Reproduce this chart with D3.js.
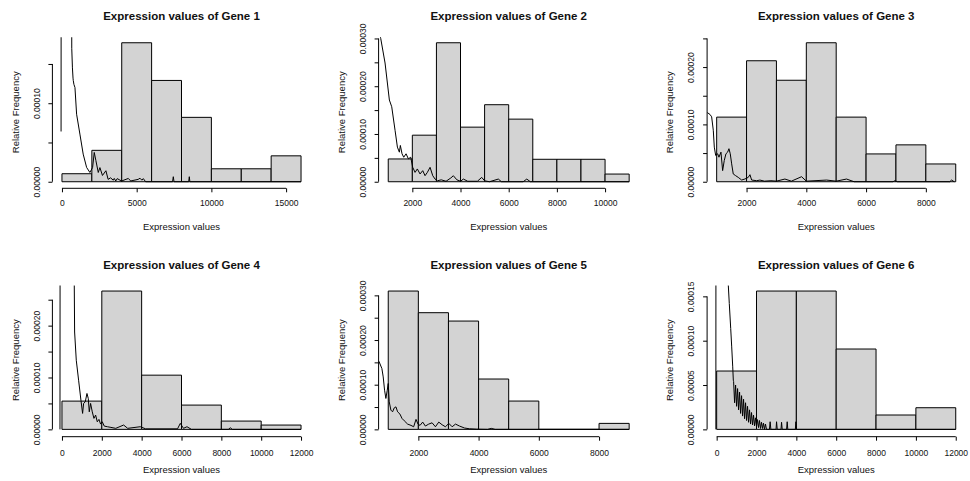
<!DOCTYPE html>
<html>
<head>
<meta charset="utf-8">
<title>Expression values</title>
<script src="https://d3js.org/d3.v7.min.js"></script>
<style>
  body { margin: 0; background: #fff; }
  text { font-family: "Liberation Sans", Arial, sans-serif; fill: #111; }
  .title { font-weight: bold; font-size: 11.5px; }
  .lab { font-size: 9.5px; }
  .axis text { font-size: 8.5px; }
  .axis line, .axis path { stroke: #000; }
</style>
</head>
<body>
<script>
// Histogram breaks, bar densities and the density line of each gene
var titles = ["Expression values of Gene 1", "Expression values of Gene 2", "Expression values of Gene 3",
              "Expression values of Gene 4", "Expression values of Gene 5", "Expression values of Gene 6"];

var breaks1 = [0, 2000, 4000, 6000, 8000, 10000, 12000, 14000, 16000];
var dens1 = [0.0000102, 0.0000400, 0.0001770, 0.0001290, 0.0000820, 0.0000165, 0.0000165, 0.0000330];
var xTicks1 = [0, 5000, 10000, 15000];
var yTicks1 = [0, 0.00005, 0.0001, 0.00015];
var line1 = [[-60,0.000064],[-45,0.0006],[630,0.0006],[655,0.00017],[700,0.000145],[740,0.000132],[757,0.000129],
  [800,0.000124],[870,0.00012],[980,0.000086],[1200,0.0000607],[1420,0.0000352],[1650,0.0000182],[1870,0.0000118],
  [2050,0.0000182],[2160,0.0000373],[2270,0.000027],[2430,0.0000118],[2540,0.000018],[2710,0.000008],[2940,0.000014],
  [3090,0.000003],[3250,0.000005],[3435,0.000002],[3500,0.0000042],[3600,0.000001],[3700,0.000004],[3882,0.000002],
  [4000,0.000001],[4440,0.0000042],[4600,0.000001],[5100,0.000003],[5220,0.0000045],[5350,0.000002],[5443,0.000004],
  [5600,0],[7400,0],[7452,0.0000064],[7500,0],[8480,0],[8522,0.0000064],[8560,0],[16000,0]];

var breaks2 = [1000, 2000, 3000, 4000, 5000, 6000, 7000, 8000, 9000, 10000, 11000];
var dens2 = [0.0000477, 0.0000975, 0.000291, 0.0001143, 0.0001613, 0.0001311, 0.000047, 0.000047, 0.000047, 0.0000161];
var xTicks2 = [2000, 4000, 6000, 8000, 10000];
var yTicks2 = [0, 0.00005, 0.0001, 0.00015, 0.0002, 0.00025, 0.0003];
var line2 = [[560,0.00033],[688,0.0003],[868,0.0002486],[1047,0.0001711],[1145,0.000157],[1283,0.0001077],[1380,0.0000725],
  [1462,0.0000619],[1503,0.000076],[1573,0.0000585],[1643,0.0000513],[1740,0.0000585],[1836,0.000048],[1933,0.0000513],
  [2016,0.0000302],[2113,0.0000196],[2208,0.0000268],[2320,0.0000163],[2432,0.0000232],[2528,0.0000127],[2624,0.0000196],
  [2736,0.0000302],[2847,0.0000127],[2943,0.0000057],[3040,0.000002],[3200,0.000004],[3400,0.000001],[3600,0.000008],
  [3703,0.0000126],[3850,0.000004],[4000,0.000001],[4118,0.0000056],[4300,0.000001],[4700,0.000001],[4880,0.0000091],
  [5000,0.000002],[5200,0],[5570,0.0000056],[5700,0],[6600,0],[6750,0.0000056],[6900,0],[11000,0]];

var breaks3 = [1000, 2000, 3000, 4000, 5000, 6000, 7000, 8000, 9000];
var dens3 = [0.0001127, 0.000211, 0.000177, 0.0002424, 0.0001127, 0.0000485, 0.0000643, 0.000031];
var xTicks3 = [2000, 4000, 6000, 8000];
var yTicks3 = [0, 0.00005, 0.0001, 0.00015, 0.0002, 0.00025];
var line3 = [[680,0.000121],[699,0.0001202],[776,0.0001174],[832,0.0001132],[887,0.0000898],[921,0.0000604],[967,0.0000458],
  [1033,0.0000488],[1077,0.0000428],[1144,0.0000516],[1200,0.0000194],[1254,0.000037],[1311,0.0000488],[1367,0.0000516],
  [1411,0.0000576],[1455,0.0000488],[1502,0.0000312],[1555,0.0000136],[1635,0.0000106],[1722,0.0000076],[1836,0.000003],
  [1946,0.0000048],[2057,0.0000076],[2114,0.0000123],[2170,0.000003],[2338,0.0000018],[2448,0.0000029],[2600,0.000001],
  [2816,0.0000018],[3000,0.000001],[3284,0.0000047],[3500,0.000001],[3841,0.0000088],[4000,0.000001],[4677,0.0000029],
  [5000,0.000001],[5346,0.0000047],[5600,0],[6900,0],[6963,0.0000018],[7050,0],[8800,0],[8859,0.0000029],[8950,0]];

var breaks4 = [0, 2000, 4000, 6000, 8000, 10000, 12000];
var dens4 = [0.0000545, 0.0002667, 0.0001045, 0.0000468, 0.000016, 0.0000083];
var xTicks4 = [0, 2000, 4000, 6000, 8000, 10000, 12000];
var yTicks4 = [0, 0.00005, 0.0001, 0.00015, 0.0002, 0.00025];
var line4 = [[-100,0],[-90,0.0006],[600,0.0006],[618,0.0002775],[635,0.0001877],[718,0.0001333],[835,0.0000948],
  [952,0.0000563],[1036,0.0000308],[1086,0.00005],[1170,0.0000531],[1255,0.0000692],[1321,0.0000596],[1371,0.0000338],
  [1437,0.00005],[1521,0.0000338],[1605,0.0000212],[1689,0.0000275],[1772,0.0000146],[1856,0.0000192],[1939,0.0000102],
  [2023,0.0000146],[2124,0.0000063],[2291,0.000005],[2458,0.0000038],[2700,0.000002],[3094,0.0000083],[3300,0.000002],
  [3931,0.0000051],[4200,0.000001],[5800,0.000001],[5940,0.0000115],[6100,0.000002],[6275,0.0000051],[6500,0],
  [8350,0],[8450,0.000003],[8550,0],[12000,0]];

var breaks5 = [1000, 2000, 3000, 4000, 5000, 6000, 7000, 8000, 9000];
var dens5 = [0.0003097, 0.0002612, 0.0002425, 0.0001127, 0.0000634, 0, 0, 0.0000134];
var xTicks5 = [2000, 4000, 6000, 8000];
var yTicks5 = [0, 0.00005, 0.0001, 0.00015, 0.0002, 0.00025, 0.0003];
var line5 = [[680,0.000153],[700,0.0001509],[789,0.0001362],[833,0.0001174],[878,0.0000877],[922,0.0000692],[967,0.0000877],
  [1000,0.0001027],[1033,0.0000616],[1089,0.0000431],[1144,0.0000393],[1200,0.0000482],[1256,0.0000504],[1311,0.0000393],
  [1389,0.0000342],[1456,0.0000246],[1533,0.0000192],[1644,0.0000118],[1756,0.0000089],[1844,0.0000058],[1922,0.0000223],
  [1989,0.0000118],[2056,0.0000089],[2144,0.0000163],[2233,0.0000074],[2344,0.0000118],[2456,0.0000147],[2567,0.0000058],
  [2678,0.0000163],[2789,0.0000103],[2900,0.0000058],[3011,0.0000134],[3122,0.0000058],[3233,0.0000118],[3367,0.0000074],
  [3533,0.000003],[3700,0.0000013],[3922,0.0000005],[4300,0],[4422,0.0000022],[4550,0],[9000,0]];

var breaks6 = [0, 2000, 4000, 6000, 8000, 10000, 12000];
var dens6 = [0.0000658, 0.000156, 0.000156, 0.0000906, 0.0000162, 0.0000244];
var xTicks6 = [0, 2000, 4000, 6000, 8000, 10000, 12000];
var yTicks6 = [0, 0.00005, 0.0001, 0.00015];
var line6 = [[-40,0],[-30,0.0006],[560,0.0006],[584,0.0001625],[634,0.0001419],[705,0.0001137],[755,0.000093],
  [806,0.0000705],[836,0.0000555],[850,0.000054],[900,0.000030],[950,0.000050],[1000,0.000026],[1050,0.000046],
  [1100,0.000022],[1150,0.000042],[1200,0.000018],[1250,0.000038],[1300,0.000015],[1350,0.000034],[1400,0.000012],
  [1450,0.000030],[1500,0.000010],[1550,0.000026],[1600,0.000008],[1650,0.000022],[1700,0.000006],[1750,0.000019],
  [1800,0.000005],[1850,0.000016],[1900,0.000004],[1950,0.000013],[2000,0.000003],[2050,0.000011],[2100,0.000002],
  [2150,0.000010],[2200,0.000001],[2250,0.000008],[2300,0.000001],[2350,0.000007],[2400,0],[2450,0.000006],[2500,0],
  [2650,0],[2685,0.0000086],[2720,0],[2980,0],[3006,0.0000086],[3040,0],[3230,0],[3257,0.000008],[3290,0],
  [3510,0],[3540,0.0000086],[3570,0],[3950,0],[3977,0.0000086],[4010,0],[12000,0]];

var panels = [
  {breaks: breaks1, dens: dens1, line: line1, xTicks: xTicks1, yTicks: yTicks1},
  {breaks: breaks2, dens: dens2, line: line2, xTicks: xTicks2, yTicks: yTicks2},
  {breaks: breaks3, dens: dens3, line: line3, xTicks: xTicks3, yTicks: yTicks3},
  {breaks: breaks4, dens: dens4, line: line4, xTicks: xTicks4, yTicks: yTicks4},
  {breaks: breaks5, dens: dens5, line: line5, xTicks: xTicks5, yTicks: yTicks5},
  {breaks: breaks6, dens: dens6, line: line6, xTicks: xTicks6, yTicks: yTicks6}
];

// plot regions (2 x 3 layout)
var cols = [{left: 52.4, right: 310.6}, {left: 378.6, right: 638.8}, {left: 707.1, right: 965.3}];
var rows = [{top: 37.2, bottom: 187.3, axisOff: 1, tickPad: 8, xlabY: 230.3, titleY: 20},
            {top: 285.5, bottom: 434.9, axisOff: 1.8, tickPad: 9.6, xlabY: 472.8, titleY: 269}];

var svg = d3.select("body").append("svg")
    .attr("width", 970)
    .attr("height", 481);

var fmt = d3.format(".5f");

panels.forEach(function(p, i) {
  var c = cols[i % 3], r = rows[Math.floor(i / 3)];
  var b0 = p.breaks[0], b1 = p.breaks[p.breaks.length - 1];
  var pad = (b1 - b0) * 0.04;
  var x = d3.scaleLinear().domain([b0 - pad, b1 + pad]).range([c.left, c.right]);
  var ymax = d3.max(p.dens);
  var y = d3.scaleLinear().domain([-0.04 * ymax, 1.04 * ymax]).range([r.bottom, r.top]);

  var g = svg.append("g");

  g.append("clipPath").attr("id", "clip" + i)
    .append("rect")
      .attr("x", c.left).attr("y", r.top)
      .attr("width", c.right - c.left).attr("height", r.bottom - r.top);

  // bars (paths so that empty bins still show as a line)
  g.selectAll(".bar")
      .data(p.dens)
    .enter().append("path")
      .attr("class", "bar")
      .attr("d", function(d, j) {
        var x0 = x(p.breaks[j]), x1 = x(p.breaks[j + 1]);
        return "M" + x0 + "," + y(0) + "H" + x1 + "V" + y(d) + "H" + x0 + "Z";
      })
      .style("fill", "#d3d3d3")
      .style("stroke", "#000")
      .style("stroke-width", 1);

  // density line
  g.append("path")
      .datum(p.line)
      .attr("clip-path", "url(#clip" + i + ")")
      .attr("d", d3.line().x(function(d) { return x(d[0]); }).y(function(d) { return y(d[1]); }))
      .style("fill", "none")
      .style("stroke", "#000")
      .style("stroke-width", 1);

  // x axis
  var xa = g.append("g")
      .attr("class", "axis")
      .attr("transform", "translate(0," + (r.bottom + r.axisOff) + ")")
      .call(d3.axisBottom(x).tickValues(p.xTicks).tickSize(4).tickPadding(r.tickPad).tickFormat(d3.format("d")));
  xa.select(".domain").attr("d", "M" + x(p.xTicks[0]) + ",0H" + x(p.xTicks[p.xTicks.length - 1]));

  // y axis, labels skipped when they would overlap
  var step = y(0) - y(p.yTicks[1]);
  var ya = g.append("g")
      .attr("class", "axis")
      .attr("transform", "translate(" + c.left + ",0)")
      .call(d3.axisLeft(y).tickValues(p.yTicks).tickSize(4)
        .tickFormat(function(d, j) { return (step < 42 && j % 2) ? "" : fmt(d); }));
  ya.select(".domain").attr("d", "M0," + y(0) + "V" + y(p.yTicks[p.yTicks.length - 1]));
  ya.selectAll("text")
      .attr("transform", "rotate(-90)")
      .attr("x", 0)
      .attr("y", -15.6)
      .attr("dy", "0.35em")
      .style("text-anchor", "middle");

  // titles
  g.append("text")
      .attr("class", "title")
      .attr("x", (c.left + c.right) / 2)
      .attr("y", r.titleY)
      .style("text-anchor", "middle")
      .text(titles[i]);

  g.append("text")
      .attr("class", "lab")
      .attr("x", (c.left + c.right) / 2)
      .attr("y", r.xlabY)
      .style("text-anchor", "middle")
      .text("Expression values");

  g.append("text")
      .attr("class", "lab")
      .attr("transform", "translate(" + (c.left - 37) + "," + ((r.top + r.bottom) / 2) + ") rotate(-90)")
      .attr("dy", "0.35em")
      .style("text-anchor", "middle")
      .text("Relative Frequency");
});
</script>
</body>
</html>
